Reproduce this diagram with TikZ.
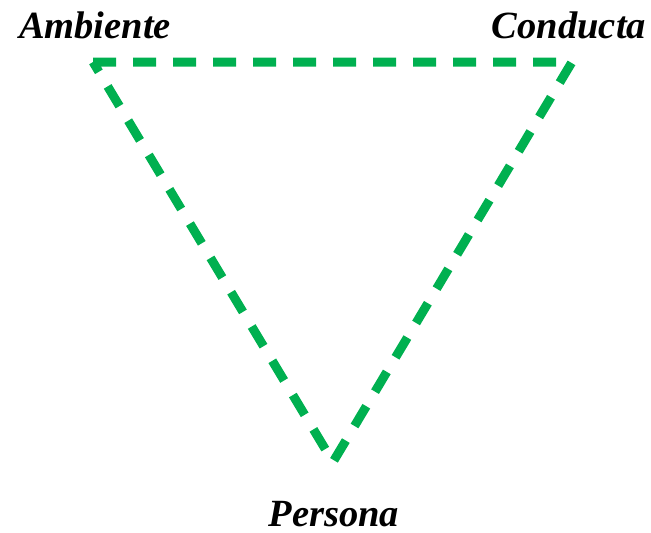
\documentclass[tikz,border=0pt]{standalone}
\usepackage{fontspec}
\setmainfont{Liberation Serif}
\definecolor{tgreen}{RGB}{0,176,80}
\begin{document}
\begin{tikzpicture}[x=1pt,y=1pt,
  lbl/.style={inner sep=0pt, anchor=base, text depth=0pt, font=\fontsize{38.5}{40}\selectfont\bfseries\itshape},
  side/.style={draw=tgreen, line width=9pt, dash pattern=on 23pt off 17pt, line join=miter}]
\useasboundingbox (0,0) rectangle (651,-533);
\coordinate (A) at (93,-62);
\coordinate (C) at (572,-62);
\coordinate (P) at (333,-462);
\draw[side] (A) -- (C) -- (P) -- cycle;
\node[lbl] (la) at (95,-38) {Ambiente};
\node[lbl] (lc) at (569,-38) {Conducta};
\node[lbl] (lp) at (334,-526) {Persona};
\end{tikzpicture}
\end{document}
